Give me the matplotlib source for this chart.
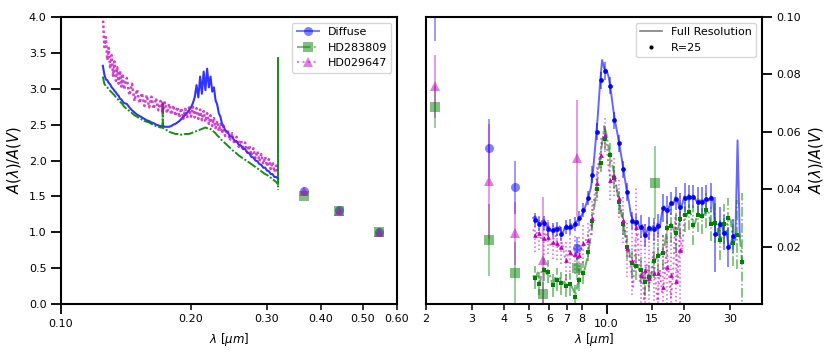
import numpy as np
import matplotlib.pyplot as plt
from matplotlib.lines import Line2D
from matplotlib.ticker import FixedLocator, FixedFormatter

plt.rcParams['font.family'] = 'DejaVu Sans'
plt.rcParams['font.size'] = 8
plt.rcParams['axes.linewidth'] = 1.5
plt.rcParams['mathtext.fontset'] = 'dejavusans'

# ---- UV spectra (left panel) ----
uv_wave = [0.125, 0.126, 0.127, 0.128, 0.129, 0.130, 0.131, 0.132, 0.133, 0.134,
           0.135, 0.136, 0.137, 0.138, 0.139, 0.140, 0.142, 0.144, 0.146, 0.148,
           0.150, 0.152, 0.154, 0.156, 0.158, 0.160, 0.162, 0.164, 0.166, 0.168,
           0.170, 0.1719, 0.172, 0.1721, 0.174, 0.176, 0.178, 0.180, 0.182, 0.184,
           0.186, 0.188, 0.190, 0.192, 0.194, 0.196, 0.198, 0.200, 0.202, 0.204,
           0.206, 0.208, 0.210, 0.212, 0.214, 0.216, 0.218, 0.220, 0.222, 0.224,
           0.226, 0.228, 0.230, 0.232, 0.234, 0.236, 0.238, 0.240, 0.243, 0.246,
           0.249, 0.252, 0.255, 0.258, 0.261, 0.264, 0.267, 0.270, 0.273, 0.276,
           0.279, 0.282, 0.285, 0.288, 0.291, 0.294, 0.297, 0.300, 0.303, 0.306,
           0.309, 0.312, 0.315, 0.318, 0.3181, 0.3182]

uv_diffuse = [3.32, 3.20, 3.13, 3.12, 3.08, 3.06, 3.02, 3.00, 2.97, 2.95,
              2.92, 2.90, 2.86, 2.85, 2.82, 2.80, 2.79, 2.74, 2.70, 2.67,
              2.64, 2.62, 2.60, 2.58, 2.56, 2.55, 2.53, 2.52, 2.50, 2.49,
              2.48, 2.48, 2.48, 2.48, 2.47, 2.47, 2.47, 2.48, 2.50, 2.51,
              2.53, 2.55, 2.58, 2.61, 2.64, 2.67, 2.70, 2.74, 2.80, 2.88,
              3.05, 2.88, 3.17, 2.93, 3.24, 2.98, 3.28, 3.02, 3.17, 2.96,
              3.02, 2.84, 2.78, 2.66, 2.61, 2.51, 2.48, 2.42, 2.40, 2.34,
              2.33, 2.28, 2.27, 2.22, 2.21, 2.16, 2.16, 2.11, 2.10, 2.05,
              2.04, 2.00, 1.99, 1.95, 1.94, 1.90, 1.90, 1.86, 1.85, 1.81,
              1.81, 1.77, 1.77, 1.75, np.nan, np.nan]

uv_hd283809 = [3.17, 3.07, 3.04, 3.02, 2.99, 2.97, 2.95, 2.93, 2.91, 2.88,
               2.86, 2.84, 2.82, 2.80, 2.78, 2.75, 2.72, 2.69, 2.66, 2.63,
               2.61, 2.59, 2.57, 2.55, 2.54, 2.53, 2.51, 2.49, 2.48, 2.47,
               2.46, 2.46, 2.81, 2.46, 2.44, 2.42, 2.40, 2.39, 2.38, 2.37,
               2.37, 2.36, 2.36, 2.36, 2.37, 2.37, 2.37, 2.38, 2.39, 2.40,
               2.41, 2.42, 2.43, 2.44, 2.45, 2.46, 2.45, 2.45, 2.44, 2.42,
               2.40, 2.38, 2.35, 2.33, 2.30, 2.28, 2.26, 2.24, 2.21, 2.18,
               2.15, 2.12, 2.10, 2.07, 2.05, 2.03, 2.01, 1.99, 1.97, 1.95,
               1.93, 1.91, 1.89, 1.87, 1.85, 1.83, 1.81, 1.80, 1.78, 1.76,
               1.74, 1.72, 1.70, 1.67, 3.43, 1.59]

uv_hd029647 = [4.02, 3.58, 3.72, 3.40, 3.57, 3.28, 3.47, 3.18, 3.38, 3.11,
               3.30, 3.07, 3.25, 3.03, 3.21, 2.99, 3.15, 2.91, 3.07, 2.83,
               2.99, 2.80, 2.94, 2.76, 2.91, 2.74, 2.89, 2.72, 2.87, 2.70,
               2.83, 2.68, 2.82, 2.68, 2.81, 2.66, 2.79, 2.64, 2.77, 2.62,
               2.75, 2.60, 2.73, 2.58, 2.72, 2.59, 2.74, 2.61, 2.75, 2.60,
               2.73, 2.58, 2.71, 2.56, 2.69, 2.54, 2.66, 2.51, 2.63, 2.48,
               2.59, 2.45, 2.55, 2.41, 2.51, 2.38, 2.48, 2.34, 2.43, 2.28,
               2.38, 2.23, 2.33, 2.19, 2.29, 2.15, 2.25, 2.11, 2.21, 2.07,
               2.17, 2.03, 2.13, 1.99, 2.09, 1.95, 2.05, 1.92, 2.02, 1.88,
               1.98, 1.84, 1.93, 1.82, np.nan, np.nan]

# optical photometry (U, B, V)
opt_wave = [0.365, 0.44, 0.545]
opt_diffuse = [1.57, 1.31, 1.00]
opt_hd283809 = [1.51, 1.30, 1.00]
opt_hd029647 = [1.58, 1.29, 1.00]

# ---- IR spectra (right panel), full resolution ----
ir_wave = [5.20, 5.30, 5.41, 5.52, 5.63, 5.74, 5.86, 5.97, 6.09, 6.21,
           6.34, 6.46, 6.59, 6.73, 6.86, 7.00, 7.14, 7.28, 7.43, 7.58,
           7.73, 7.88, 8.04, 8.20, 8.37, 8.53, 8.70, 8.88, 9.06, 9.24,
           9.42, 9.61, 9.80, 10.00, 10.20, 10.40, 10.61, 10.82, 11.04, 11.26,
           11.48, 11.71, 11.95, 12.19, 12.43, 12.68, 12.93, 13.19, 13.46, 13.73,
           14.00, 14.28, 14.57, 14.86, 15.16, 15.46, 15.77, 16.08, 16.40, 16.73,
           17.07, 17.41, 17.76, 18.11, 18.47, 18.84, 19.22, 19.60, 20.00, 20.40,
           20.80, 21.22, 21.64, 22.07, 22.52, 22.97, 23.43, 23.90, 24.37, 24.86,
           25.36, 25.86, 26.38, 26.91, 27.45, 28.00, 28.56, 29.13, 29.71, 30.30,
           30.91, 31.53, 32.16, 32.80, 33.46, 34.13]

ir_diffuse = [.0300, .0305, .0288, .0272, .0290, .0292, .0268, .0270, .0255, .0250,
              .0266, .0258, .0270, .0240, .0262, .0275, .0262, .0278, .0266, .0285,
              .0290, .0300, .0312, .0330, .0352, .0378, .0405, .0470, .0560, .0650,
              .0760, .0850, .0820, .0815, .0790, .0740, .0680, .0630, .0590, .0545,
              .0500, .0450, .0400, .0360, .0310, .0290, .0275, .0290, .0262, .0275,
              .0238, .0250, .0270, .0255, .0272, .0258, .0280, .0268, .0320, .0340,
              .0322, .0335, .0355, .0345, .0372, .0360, .0330, .0345, .0375, .0365,
              .0380, .0368, .0378, .0365, .0352, .0362, .0350, .0362, .0368, .0360,
              .0375, .0362, .0250, .0240, .0285, .0272, .0245, .0255, .0195, .0210,
              .0240, .0225, .0570, .0235]

ir_hd283809 = [.0100, .0085, .0110, .0068, .0125, .0122, .0105, .0115, .0085, .0068,
               .0095, .0080, .0090, .0070, .0078, .0060, .0075, .0066, .0050, .0030,
               .0070, .0086, .0100, .0115, .0150, .0190, .0240, .0310, .0370, .0440,
               .0500, .0560, .0620, .0590, .0540, .0510, .0470, .0430, .0380, .0340,
               .0300, .0260, .0210, .0190, .0150, .0140, .0125, .0135, .0110, .0120,
               .0070, .0080, .0100, .0090, .0140, .0155, .0165, .0170, .0185, .0195,
               .0250, .0268, .0280, .0265, .0240, .0255, .0290, .0300, .0315, .0305,
               .0325, .0312, .0270, .0285, .0315, .0305, .0300, .0312, .0330, .0318,
               .0275, .0285, .0282, .0275, .0220, .0235, .0280, .0270, .0300, .0290,
               .0210, .0225, .0245, .0235, .0150, .0145]

ir_hd029647 = [.0260, .0235, .0255, .0240, .0220, .0235, .0250, .0228, .0200, .0225,
               .0240, .0205, .0190, .0215, .0170, .0150, .0185, .0178, .0160, .0180,
               .0150, .0175, .0200, .0205, .0230, .0245, .0280, .0340, .0400, .0470,
               .0520, .0560, .0610, .0560, .0470, .0420, .0455, .0430, .0380, .0350,
               .0310, .0280, .0210, .0180, .0120, .0060, .0220, .0250, .0080, .0120,
               .0010, .0140, .0060, .0100, .0180, .0090, .0000, .0120, .0040, .0080,
               .0200, .0110, .0020, .0110, .0300, .0070, .0260, .0180, .0300]

# ---- IR spectra binned to R=25 ----
r25_wave = [5.28, 5.49, 5.71, 5.94, 6.18, 6.42, 6.68, 6.95, 7.23, 7.52,
            7.82, 8.13, 8.46, 8.79, 9.15, 9.51, 9.89, 10.29, 10.70, 11.13,
            11.57, 12.04, 12.52, 13.02, 13.54, 14.08, 14.64, 15.23, 15.84, 16.47,
            17.13, 17.82, 18.53, 19.27, 20.04, 20.84, 21.68, 22.54, 23.45, 24.38,
            25.36, 26.37, 27.43, 28.52, 29.66, 30.85, 32.08, 33.37]

r25_diffuse = [.0293, .0279, .0282, .0262, .0258, .0262, .0245, .0268, .0270, .0278,
               .0298, .0328, .0370, .0450, .0600, .0780, .0812, .0760, .0640, .0560,
               .0470, .0390, .0290, .0284, .0270, .0240, .0264, .0261, .0272, .0334,
               .0328, .0351, .0366, .0337, .0371, .0374, .0374, .0357, .0357, .0365,
               .0371, .0243, .0279, .0249, .0200, .0237]
r25_diffuse_err = [.0025, .0025, .0025, .0025, .0025, .0025, .0025, .0025, .0025, .0025,
                   .0025, .0025, .0025, .003, .003, .003, .003, .003, .003, .003,
                   .003, .003, .003, .003, .004, .004, .004, .004, .004, .005,
                   .005, .004, .004, .005, .005, .004, .004, .005, .005, .005,
                   .005, .013, .006, .006, .007, .006]

r25_hd283809 = [.0092, .0070, .0119, .0113, .0066, .0084, .0072, .0063, .0069, .0025,
                .0084, .0109, .0180, .0290, .0400, .0493, .0575, .0520, .0440, .0354,
                .0279, .0198, .0144, .0133, .0119, .0078, .0095, .0151, .0167, .0179,
                .0264, .0272, .0247, .0295, .0311, .0319, .0276, .0311, .0305, .0326,
                .0279, .0282, .0223, .0279, .0299, .0212, .0241, .0148]
r25_hd283809_err = [.004, .004, .004, .004, .004, .004, .004, .004, .004, .004,
                    .004, .004, .003, .003, .003, .003, .004, .004, .004, .004,
                    .004, .004, .005, .005, .005, .005, .005, .006, .006, .006,
                    .006, .006, .007, .006, .006, .006, .007, .006, .006, .006,
                    .006, .007, .007, .007, .007, .008, .012, .024]

r25_hd029647 = [.0241, .0247, .0229, .0235, .0217, .0212, .0200, .0154, .0182, .0174,
                .0171, .0212, .0223, .0300, .0420, .0520, .0590, .0433, .0447, .0369,
                .0293, .0194, .0150, .0270, .0101, .0120, .0090, .0107, .0109, .0060,
                .0130, .0100, .0080, .0188]
r25_hd029647_err = [.006, .006, .006, .006, .006, .006, .006, .007, .007, .007,
                    .007, .007, .006, .006, .006, .006, .006, .007, .007, .007,
                    .008, .010, .012, .014, .014, .016, .016, .018, .016, .018,
                    .020, .018, .024, .020]

# ---- near/mid IR photometry ----
phot_wave = [2.16, 3.51, 4.44, 5.65, 7.65, 15.4]
phot_diffuse = [0.108, 0.0543, 0.0407, np.nan, 0.0194, np.nan]
phot_diffuse_err = [0.0165, 0.0102, 0.0093, np.nan, 0.004, np.nan]
phot_hd283809 = [0.0686, 0.0223, 0.0107, 0.0035, 0.0125, 0.0423]
phot_hd283809_err = [0.0073, 0.0125, 0.011, 0.004, 0.004, 0.0127]
phot_hd029647 = [0.0758, 0.0427, 0.0247, 0.0153, 0.0508, np.nan]
phot_hd029647_err = [0.011, 0.020, 0.011, 0.022, 0.0204, np.nan]

names = ['Diffuse', 'HD283809', 'HD029647']
colors = ['blue', 'green', 'm']
styles = ['-', '-.', ':']
markers = ['o', 's', '^']

fig = plt.figure(figsize=(8.3, 3.56), dpi=100)
ax1 = fig.add_axes([0.0735, 0.1461, 0.4048, 0.8061])
ax2 = fig.add_axes([0.5133, 0.1461, 0.4048, 0.8061])

# left panel (dense spectra: tighter dash patterns than the legend keys)
uv_sets = [uv_diffuse, uv_hd283809, uv_hd029647]
opt_sets = [opt_diffuse, opt_hd283809, opt_hd029647]
uv_styles = ['-', (0, (5, 1, 1, 1)), (0, (1, 1))]
for vals, c, ls, lw, a in zip(uv_sets, colors, uv_styles, [1.5, 1.4, 1.8], [0.8, 0.9, 0.75]):
    ax1.plot(uv_wave, vals, color=c, ls=ls, lw=lw, alpha=a)
for vals, c, mk in zip(opt_sets, colors, markers):
    ax1.plot(opt_wave, vals, ls='none', marker=mk, color=c, ms=6.5, alpha=0.5, mew=0)

ax1.set_xscale('log')
ax1.set_xlim(0.1, 0.6)
ax1.set_ylim(0.0, 4.0)
ax1.set_yticks(np.arange(0, 4.01, 0.5))
ax1.xaxis.set_major_locator(FixedLocator([0.1]))
ax1.xaxis.set_major_formatter(FixedFormatter(['0.10']))
ax1.xaxis.set_minor_locator(FixedLocator([0.2, 0.3, 0.4, 0.5, 0.6]))
ax1.xaxis.set_minor_formatter(FixedFormatter(['0.20', '0.30', '0.40', '0.50', '0.60']))
ax1.set_xlabel(r'$\lambda$ [$\mu m$]', fontsize=8.5, labelpad=2)
ax1.set_ylabel(r'$A(\lambda)/A(V)$', fontsize=10.5)

handles = [Line2D([], [], color=c, ls=ls, marker=mk, ms=6.5, alpha=0.5, mew=0, lw=1.5)
           for c, ls, mk in zip(colors, styles, markers)]
ax1.legend(handles, names, loc='upper right', fontsize=8)

# right panel
ir_sets = [ir_diffuse, ir_hd283809, ir_hd029647]
for vals, c, ls in zip(ir_sets, colors, styles):
    ax2.plot(ir_wave[:len(vals)], vals, color=c, ls=ls, lw=1.4, alpha=0.6)

r25_sets = [(r25_diffuse, r25_diffuse_err), (r25_hd283809, r25_hd283809_err),
            (r25_hd029647, r25_hd029647_err)]
for (vals, errs), c, ls, mk in zip(r25_sets, colors, styles, markers):
    eb = ax2.errorbar(r25_wave[:len(vals)], vals, yerr=errs, fmt=mk, color=c, ms=3.4,
                      ecolor=c, elinewidth=1.1, mew=0)
    eb[2][0].set_linestyle(ls)
    eb[2][0].set_alpha(0.6)

phot_sets = [(phot_diffuse, phot_diffuse_err), (phot_hd283809, phot_hd283809_err),
             (phot_hd029647, phot_hd029647_err)]
for (vals, errs), c, mk in zip(phot_sets, colors, markers):
    ax2.errorbar(phot_wave, vals, yerr=errs, fmt=mk, color=c, ms=6.5, alpha=0.5,
                 mew=0, elinewidth=1.1)

ax2.set_xscale('log')
ax2.set_xlim(2, 40)
ax2.set_ylim(0.0, 0.1)
ax2.set_yticks([0.02, 0.04, 0.06, 0.08, 0.10])
ax2.set_yticklabels(['0.02', '0.04', '0.06', '0.08', '0.10'])
ax2.yaxis.tick_right()
ax2.yaxis.set_label_position('right')
ax2.xaxis.set_major_locator(FixedLocator([10]))
ax2.xaxis.set_major_formatter(FixedFormatter(['10.0']))
ax2.xaxis.set_minor_locator(FixedLocator([2, 3, 4, 5, 6, 7, 8, 15, 20, 30]))
ax2.xaxis.set_minor_formatter(FixedFormatter(['2', '3', '4', '5', '6', '7', '8', '15', '20', '30']))
ax2.set_xlabel(r'$\lambda$ [$\mu m$]', fontsize=8.5, labelpad=2)
ax2.set_ylabel(r'$A(\lambda)/A(V)$', fontsize=10.5)

leg_handles = [Line2D([], [], color='k', lw=1.2, alpha=0.5),
               Line2D([], [], color='k', ls='none', marker='.', ms=4)]
ax2.legend(leg_handles, ['Full Resolution', 'R=25'], loc='upper right', fontsize=8)

for ax in (ax1, ax2):
    ax.tick_params(which='major', length=7, width=1.3, labelsize=8)
    ax.tick_params(which='minor', length=4, width=1.1, labelsize=8)

fig.savefig('out.png', dpi=100)
